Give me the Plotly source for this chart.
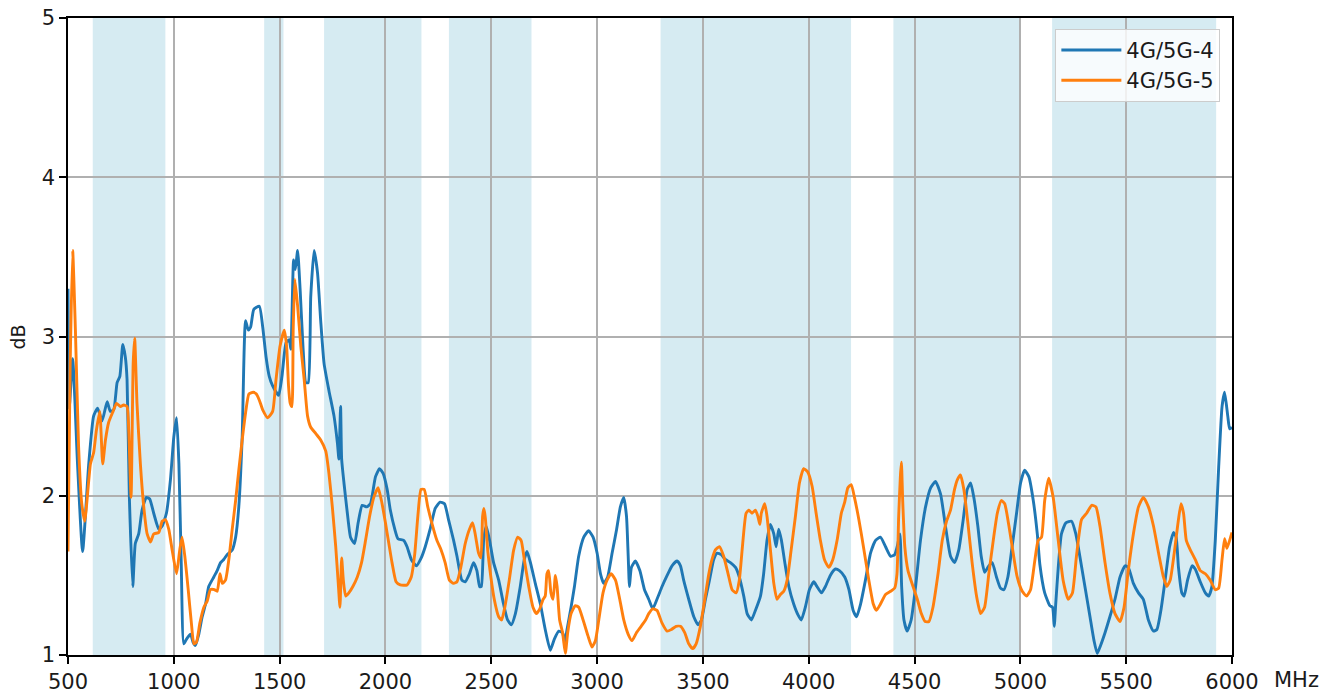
import plotly.graph_objects as go

# ---- data ----
freq_4 = [500, 506, 522, 545, 569, 598, 621, 640, 661, 685, 700, 716, 732, 745, 759, 771, 779, 790, 806, 818,
          834, 850, 870, 886, 905, 929, 945, 965, 984, 1000, 1013, 1024, 1035, 1047, 1060, 1079, 1091, 1102, 1118, 1134,
          1150, 1165, 1189, 1205, 1221, 1236, 1252, 1276, 1292, 1307, 1323, 1339, 1352, 1363, 1378, 1404, 1420, 1436, 1451, 1467,
          1495, 1511, 1530, 1545, 1553, 1566, 1574, 1585, 1597, 1611, 1624, 1635, 1647, 1663, 1679, 1694, 1710, 1733, 1757, 1773,
          1780, 1788, 1793, 1804, 1820, 1835, 1854, 1871, 1890, 1911, 1929, 1953, 1972, 1989, 2008, 2023, 2044, 2059, 2086, 2102,
          2122, 2146, 2169, 2188, 2211, 2235, 2258, 2279, 2298, 2322, 2338, 2361, 2377, 2397, 2416, 2432, 2445, 2453, 2464, 2476,
          2492, 2511, 2535, 2558, 2577, 2595, 2614, 2637, 2656, 2669, 2685, 2708, 2732, 2755, 2779, 2798, 2819, 2837, 2847, 2858,
          2877, 2893, 2913, 2937, 2960, 2981, 3000, 3016, 3031, 3050, 3071, 3091, 3110, 3126, 3139, 3147, 3153, 3162, 3181, 3202,
          3224, 3244, 3263, 3283, 3307, 3331, 3354, 3378, 3394, 3409, 3433, 3457, 3477, 3493, 3512, 3531, 3551, 3567, 3587, 3606,
          3630, 3654, 3672, 3693, 3709, 3729, 3748, 3772, 3787, 3803, 3819, 3835, 3846, 3858, 3871, 3887, 3906, 3929, 3950, 3965,
          3984, 4003, 4024, 4039, 4060, 4079, 4102, 4126, 4145, 4170, 4190, 4210, 4226, 4245, 4268, 4292, 4316, 4339, 4363, 4387,
          4406, 4418, 4431, 4439, 4450, 4465, 4484, 4505, 4528, 4552, 4576, 4599, 4623, 4646, 4670, 4689, 4709, 4730, 4749, 4765,
          4780, 4799, 4815, 4831, 4851, 4867, 4887, 4906, 4922, 4941, 4961, 4982, 5001, 5020, 5040, 5061, 5080, 5092, 5115, 5139,
          5152, 5160, 5167, 5179, 5194, 5215, 5242, 5262, 5281, 5305, 5329, 5348, 5363, 5379, 5400, 5423, 5447, 5471, 5495, 5510,
          5534, 5558, 5581, 5605, 5629, 5645, 5664, 5684, 5705, 5724, 5736, 5747, 5763, 5774, 5790, 5811, 5826, 5850, 5874, 5890,
          5905, 5921, 5937, 5953, 5965, 5980, 5989, 6000]
db_4 = [3.30, 2.55, 2.86, 2.20, 1.65, 2.20, 2.50, 2.55, 2.47, 2.59, 2.53, 2.54, 2.71, 2.75, 2.95, 2.87, 2.73, 1.99, 1.43, 1.70,
        1.76, 1.91, 1.99, 1.98, 1.89, 1.79, 1.81, 1.89, 2.10, 2.37, 2.49, 2.20, 1.58, 1.07, 1.10, 1.13, 1.08, 1.06, 1.13, 1.24,
        1.32, 1.43, 1.49, 1.53, 1.58, 1.60, 1.63, 1.66, 1.74, 1.93, 2.37, 3.10, 3.04, 3.06, 3.17, 3.19, 3.06, 2.87, 2.75, 2.69,
        2.63, 2.75, 2.96, 2.98, 2.92, 3.48, 3.42, 3.54, 3.29, 2.92, 2.71, 2.71, 3.25, 3.54, 3.40, 3.10, 2.83, 2.66, 2.50, 2.33,
        2.23, 2.56, 2.23, 2.08, 1.89, 1.74, 1.70, 1.83, 1.94, 1.93, 1.95, 2.12, 2.17, 2.14, 2.04, 1.91, 1.79, 1.73, 1.72, 1.68,
        1.60, 1.56, 1.61, 1.68, 1.79, 1.92, 1.96, 1.95, 1.85, 1.72, 1.62, 1.47, 1.46, 1.51, 1.58, 1.53, 1.43, 1.43, 1.72, 1.81,
        1.72, 1.58, 1.47, 1.32, 1.22, 1.19, 1.26, 1.43, 1.60, 1.65, 1.58, 1.45, 1.32, 1.16, 1.03, 1.10, 1.15, 1.14, 1.08, 1.16,
        1.30, 1.43, 1.62, 1.74, 1.78, 1.74, 1.64, 1.51, 1.45, 1.49, 1.64, 1.78, 1.93, 1.99, 1.87, 1.62, 1.43, 1.55, 1.59, 1.53,
        1.41, 1.35, 1.29, 1.35, 1.43, 1.50, 1.56, 1.59, 1.56, 1.47, 1.35, 1.24, 1.19, 1.22, 1.35, 1.47, 1.60, 1.64, 1.63, 1.60,
        1.58, 1.55, 1.49, 1.37, 1.26, 1.22, 1.28, 1.37, 1.51, 1.72, 1.82, 1.76, 1.68, 1.79, 1.72, 1.58, 1.43, 1.32, 1.25, 1.22,
        1.30, 1.41, 1.46, 1.43, 1.39, 1.43, 1.50, 1.54, 1.53, 1.49, 1.41, 1.28, 1.24, 1.32, 1.47, 1.64, 1.72, 1.74, 1.68, 1.62,
        1.63, 1.68, 1.76, 1.43, 1.22, 1.15, 1.22, 1.43, 1.72, 1.93, 2.05, 2.09, 2.01, 1.81, 1.62, 1.58, 1.66, 1.85, 2.04, 2.08,
        1.99, 1.81, 1.62, 1.52, 1.56, 1.58, 1.49, 1.42, 1.41, 1.49, 1.68, 1.89, 2.08, 2.16, 2.12, 1.97, 1.76, 1.57, 1.39, 1.31,
        1.30, 1.18, 1.32, 1.55, 1.76, 1.83, 1.84, 1.76, 1.62, 1.43, 1.24, 1.09, 1.01, 1.06, 1.14, 1.24, 1.35, 1.49, 1.56, 1.55,
        1.45, 1.39, 1.35, 1.22, 1.15, 1.16, 1.28, 1.47, 1.68, 1.77, 1.74, 1.55, 1.39, 1.37, 1.47, 1.56, 1.54, 1.46, 1.39, 1.37,
        1.43, 1.72, 2.18, 2.56, 2.65, 2.50, 2.42, 2.43]

freq_5 = [500, 510, 522, 535, 550, 565, 579, 606, 621, 634, 650, 664, 677, 692, 713, 729, 748, 763, 779, 787,
          798, 808, 815, 826, 842, 858, 874, 890, 905, 929, 945, 960, 976, 992, 1013, 1028, 1039, 1052, 1068, 1083,
          1095, 1107, 1123, 1142, 1158, 1173, 1192, 1205, 1218, 1229, 1244, 1260, 1276, 1292, 1307, 1323, 1339, 1355, 1375, 1389,
          1404, 1420, 1444, 1467, 1483, 1502, 1522, 1533, 1542, 1550, 1558, 1564, 1572, 1585, 1600, 1616, 1632, 1647, 1671, 1694,
          1718, 1733, 1749, 1765, 1777, 1785, 1793, 1801, 1812, 1827, 1846, 1867, 1887, 1906, 1925, 1945, 1965, 1981, 2000, 2016,
          2031, 2050, 2070, 2102, 2122, 2138, 2153, 2168, 2183, 2200, 2219, 2243, 2263, 2282, 2302, 2322, 2338, 2356, 2377, 2397,
          2412, 2424, 2440, 2451, 2459, 2465, 2472, 2483, 2498, 2514, 2535, 2549, 2564, 2585, 2606, 2625, 2641, 2656, 2677, 2697,
          2713, 2729, 2745, 2755, 2763, 2771, 2782, 2792, 2803, 2811, 2823, 2837, 2850, 2861, 2877, 2897, 2913, 2934, 2957, 2976,
          2992, 3008, 3028, 3047, 3066, 3087, 3107, 3126, 3147, 3165, 3186, 3208, 3229, 3244, 3263, 3283, 3307, 3331, 3351, 3373,
          3394, 3414, 3433, 3452, 3468, 3488, 3509, 3528, 3543, 3559, 3578, 3598, 3619, 3638, 3657, 3672, 3688, 3704, 3717, 3732,
          3748, 3760, 3769, 3776, 3792, 3803, 3819, 3835, 3850, 3866, 3882, 3898, 3917, 3937, 3956, 3976, 3995, 4016, 4035, 4055,
          4074, 4095, 4114, 4134, 4154, 4170, 4185, 4201, 4216, 4237, 4261, 4284, 4305, 4320, 4339, 4363, 4387, 4406, 4417, 4425,
          4433, 4438, 4444, 4454, 4469, 4493, 4513, 4532, 4550, 4568, 4587, 4611, 4631, 4651, 4670, 4689, 4702, 4717, 4733, 4752,
          4772, 4793, 4812, 4831, 4851, 4872, 4891, 4910, 4926, 4946, 4966, 4985, 5009, 5029, 5048, 5067, 5084, 5100, 5115, 5134,
          5155, 5179, 5202, 5226, 5246, 5265, 5289, 5313, 5337, 5357, 5376, 5400, 5423, 5447, 5471, 5490, 5510, 5534, 5558, 5581,
          5605, 5629, 5653, 5676, 5692, 5708, 5727, 5743, 5759, 5771, 5784, 5803, 5826, 5850, 5874, 5897, 5921, 5937, 5953, 5965,
          5976, 5989, 6000]
db_5 = [1.65, 2.80, 3.54, 3.04, 2.31, 1.95, 1.84, 2.20, 2.27, 2.41, 2.53, 2.20, 2.35, 2.46, 2.53, 2.58, 2.56, 2.57, 2.56, 2.41,
        1.99, 2.83, 2.99, 2.58, 2.20, 1.93, 1.76, 1.71, 1.76, 1.77, 1.84, 1.85, 1.79, 1.66, 1.51, 1.66, 1.74, 1.62, 1.41, 1.20,
        1.07, 1.08, 1.20, 1.30, 1.34, 1.41, 1.41, 1.40, 1.51, 1.45, 1.47, 1.60, 1.79, 1.97, 2.16, 2.35, 2.52, 2.64, 2.65, 2.64,
        2.60, 2.54, 2.49, 2.53, 2.73, 2.94, 3.04, 2.94, 2.69, 2.58, 2.56, 3.04, 3.36, 3.19, 2.94, 2.73, 2.50, 2.43, 2.39, 2.35,
        2.28, 2.14, 1.93, 1.68, 1.45, 1.30, 1.61, 1.47, 1.37, 1.39, 1.43, 1.49, 1.58, 1.72, 1.87, 1.99, 2.05, 1.97, 1.83, 1.70,
        1.58, 1.46, 1.44, 1.44, 1.49, 1.63, 1.87, 2.04, 2.04, 1.93, 1.83, 1.72, 1.66, 1.58, 1.47, 1.45, 1.46, 1.55, 1.70, 1.79,
        1.83, 1.76, 1.64, 1.61, 1.87, 1.92, 1.86, 1.66, 1.49, 1.35, 1.24, 1.22, 1.30, 1.47, 1.66, 1.74, 1.72, 1.60, 1.43, 1.30,
        1.26, 1.29, 1.35, 1.37, 1.51, 1.53, 1.39, 1.35, 1.50, 1.43, 1.22, 1.14, 1.01, 1.14, 1.26, 1.31, 1.30, 1.22, 1.12, 1.05,
        1.09, 1.22, 1.39, 1.47, 1.51, 1.47, 1.35, 1.22, 1.13, 1.09, 1.14, 1.18, 1.22, 1.26, 1.29, 1.28, 1.20, 1.15, 1.16, 1.18,
        1.18, 1.14, 1.07, 1.04, 1.07, 1.18, 1.35, 1.51, 1.60, 1.66, 1.68, 1.62, 1.51, 1.41, 1.39, 1.47, 1.70, 1.89, 1.91, 1.89,
        1.91, 1.87, 1.82, 1.89, 1.95, 1.87, 1.66, 1.45, 1.35, 1.38, 1.40, 1.47, 1.66, 1.87, 2.08, 2.17, 2.15, 2.06, 1.89, 1.72,
        1.60, 1.55, 1.60, 1.72, 1.89, 1.96, 2.05, 2.07, 1.99, 1.85, 1.66, 1.47, 1.32, 1.28, 1.32, 1.38, 1.40, 1.42, 1.51, 1.87,
        2.12, 2.21, 1.97, 1.68, 1.53, 1.43, 1.35, 1.26, 1.21, 1.21, 1.30, 1.51, 1.72, 1.84, 1.91, 2.04, 2.10, 2.13, 2.04, 1.83,
        1.58, 1.37, 1.26, 1.30, 1.51, 1.72, 1.89, 1.97, 1.95, 1.81, 1.64, 1.49, 1.40, 1.37, 1.41, 1.58, 1.72, 1.74, 1.97, 2.11,
        1.99, 1.72, 1.47, 1.35, 1.39, 1.62, 1.85, 1.89, 1.94, 1.93, 1.81, 1.58, 1.39, 1.26, 1.21, 1.30, 1.53, 1.76, 1.93, 1.99,
        1.93, 1.81, 1.64, 1.49, 1.43, 1.47, 1.64, 1.81, 1.95, 1.89, 1.72, 1.66, 1.60, 1.53, 1.51, 1.47, 1.41, 1.42, 1.60, 1.73,
        1.67, 1.72, 1.77]

band_starts = [617, 1427, 1710, 2300, 3300, 4400, 5150]
band_ends = [960, 1518, 2170, 2690, 4200, 5000, 5925]

x_ticks = [500, 1000, 1500, 2000, 2500, 3000, 3500, 4000, 4500, 5000, 5500, 6000]
y_ticks = [1, 2, 3, 4, 5]

series_names = ["4G/5G-4", "4G/5G-5"]
series_colors = ["#1f77b4", "#ff7f0e"]

FONT = "DejaVu Sans, Verdana, sans-serif"
TXT = "#1a1a1a"

fig = go.Figure()
for name, fx, fy, col in zip(series_names, [freq_4, freq_5], [db_4, db_5], series_colors):
    fig.add_trace(go.Scatter(x=fx, y=fy, mode="lines", name=name,
                             line=dict(color=col, width=2.9, shape="spline", smoothing=0.5)))

for s, e in zip(band_starts, band_ends):
    fig.add_shape(type="rect", xref="x", yref="y", x0=s, x1=e, y0=1, y1=5,
                  fillcolor="rgba(173,216,230,0.5)", line=dict(width=0), layer="below")

axis_common = dict(showgrid=True, gridcolor="#b0b0b0", gridwidth=1.6,
                   showline=True, linecolor="black", linewidth=1.6, mirror=True,
                   ticks="outside", ticklen=7, tickwidth=1.5, tickcolor="black",
                   zeroline=False, automargin=False,
                   tickfont=dict(family=FONT, size=21, color=TXT))

fig.update_layout(
    width=1322, height=693,
    margin=dict(l=68, r=90, t=18, b=38),
    paper_bgcolor="white", plot_bgcolor="white",
    font=dict(family=FONT, size=21, color=TXT),
    showlegend=True,
    legend=dict(x=0.99, y=0.983, xanchor="right", yanchor="top",
                bgcolor="rgba(255,255,255,0.8)", bordercolor="#cccccc", borderwidth=1,
                font=dict(family=FONT, size=21, color=TXT),
                itemwidth=60, tracegroupgap=4),
    xaxis=dict(range=[500, 6000], tickvals=x_ticks, ticktext=[str(v) for v in x_ticks], **axis_common),
    yaxis=dict(range=[1, 5], tickvals=y_ticks, ticktext=[str(v) for v in y_ticks], **axis_common),
    annotations=[
        dict(text="dB", xref="paper", yref="paper", x=-0.043, y=0.5, xanchor="center", yanchor="middle",
             textangle=-90, showarrow=False, font=dict(family=FONT, size=19, color=TXT)),
        dict(text="MHz", xref="paper", yref="paper", x=1.0344, y=-0.039, xanchor="left", yanchor="middle",
             showarrow=False, font=dict(family=FONT, size=21, color=TXT)),
    ],
)

fig.write_html("out.html", config={"displayModeBar": False},
               post_script="document.body.style.margin='0';document.body.style.overflow='hidden';")
